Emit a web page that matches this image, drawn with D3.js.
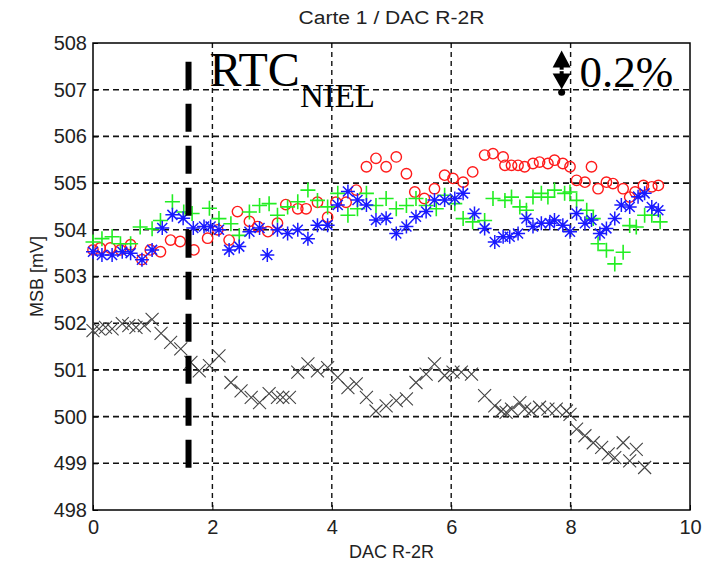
<!DOCTYPE html>
<html>
<head>
<meta charset="utf-8">
<script src="https://cdn.jsdelivr.net/npm/d3@7"></script>
<style>
  body { margin: 0; background: #fff; }
  text { font-family: "Liberation Sans", Arial, sans-serif; }
  .big { font-family: "Liberation Serif", "Times New Roman", serif; }
</style>
</head>
<body>
<div id="chart"></div>
<script>
// DAC index (x) vs MSB voltage in mV (y)
const redX = [0.0,0.12,0.29,0.46,0.63,0.82,0.96,1.13,1.30,1.46,1.69,1.92,2.09,2.28,2.42,2.62,2.76,2.93,3.09,3.23,3.43,3.57,3.76,3.93,4.07,4.24,4.41,4.58,4.74,4.91,5.08,5.25,5.39,5.55,5.72,5.89,6.03,6.20,6.36,6.56,6.70,6.87,6.90,7.01,7.12,7.23,7.37,7.48,7.62,7.73,7.87,7.99,8.10,8.24,8.35,8.46,8.60,8.71,8.88,8.99,9.08,9.22,9.36,9.47];
const redY = [503.57,503.61,503.61,503.57,503.68,503.36,503.57,503.53,503.78,503.75,503.57,503.82,504.0,503.78,504.39,504.18,504.07,503.96,504.14,504.54,504.45,504.45,504.59,504.27,504.59,504.59,504.85,505.35,505.53,505.35,505.56,505.20,504.81,504.67,504.88,505.17,505.10,505.02,505.24,505.60,505.63,505.56,505.38,505.38,505.38,505.35,505.42,505.45,505.42,505.49,505.42,505.35,505.06,505.02,505.35,504.88,505.02,504.99,504.88,504.70,504.81,504.95,504.92,504.95];

const greenX = [0.0,0.15,0.32,0.46,0.63,0.79,0.99,1.13,1.33,1.52,1.66,1.95,2.11,2.31,2.45,2.62,2.79,2.95,3.09,3.26,3.43,3.60,3.76,3.93,4.10,4.27,4.43,4.58,4.74,4.91,5.08,5.25,5.41,5.58,5.75,5.89,6.06,6.20,6.36,6.56,6.70,6.90,7.01,7.15,7.26,7.37,7.51,7.62,7.73,7.90,7.99,8.10,8.27,8.38,8.46,8.60,8.74,8.88,8.99,9.10,9.24,9.36,9.50];
const greenY = [503.74,503.81,503.85,503.70,503.70,504.06,504.02,504.20,504.60,504.38,504.35,504.46,504.24,504.13,503.88,504.38,504.52,504.56,504.31,504.49,504.60,504.85,504.63,504.49,504.78,504.31,504.45,504.78,504.52,504.67,504.45,504.52,504.67,504.52,504.45,504.74,504.56,504.24,504.17,504.20,504.67,504.63,504.70,504.49,504.42,504.70,504.78,504.70,504.85,504.78,504.81,504.63,504.42,504.24,503.70,503.56,503.27,503.52,504.09,504.06,504.31,504.31,504.17];

const blueX = [0.0,0.15,0.32,0.49,0.63,0.82,0.99,1.16,1.33,1.51,1.68,1.86,1.97,2.11,2.28,2.45,2.62,2.79,2.92,3.09,3.26,3.43,3.60,3.76,3.93,4.10,4.27,4.43,4.58,4.74,4.91,5.08,5.25,5.41,5.58,5.72,5.89,6.06,6.20,6.39,6.56,6.73,6.87,6.98,7.12,7.26,7.37,7.51,7.65,7.73,7.87,7.99,8.10,8.24,8.35,8.49,8.60,8.74,8.85,8.99,9.13,9.24,9.36,9.47];
const blueY = [503.53,503.46,503.46,503.53,503.50,503.36,503.57,504.04,504.32,504.25,504.04,504.07,504.07,504.0,503.57,503.64,503.96,504.04,503.46,504.0,503.92,504.0,503.81,504.10,504.10,504.53,504.82,504.64,504.53,504.21,504.25,503.92,504.07,504.28,504.39,504.64,504.64,504.67,504.78,504.35,504.03,503.74,503.85,503.85,503.92,504.24,504.07,504.14,504.14,504.21,504.10,503.96,504.35,504.14,504.21,503.92,504.03,504.24,504.53,504.49,504.71,504.78,504.49,504.42];

const blackX = [0.0,0.10,0.21,0.32,0.49,0.60,0.72,0.86,0.99,1.14,1.30,1.47,1.64,1.78,1.95,2.11,2.31,2.48,2.65,2.79,2.95,3.09,3.18,3.29,3.43,3.60,3.76,3.93,4.10,4.27,4.41,4.58,4.74,4.91,5.08,5.25,5.41,5.58,5.72,5.89,6.03,6.17,6.34,6.56,6.73,6.84,6.92,7.01,7.15,7.23,7.34,7.48,7.62,7.76,7.93,7.99,8.10,8.24,8.38,8.52,8.63,8.74,8.88,8.99,9.10,9.24];
const blackY = [501.84,501.88,501.91,501.88,501.99,501.95,501.91,501.95,502.08,501.78,501.59,501.45,501.16,500.98,501.09,501.30,500.73,500.55,500.41,500.30,500.49,500.41,500.41,500.41,500.95,501.13,500.98,501.05,500.84,500.62,500.70,500.41,500.12,500.23,500.34,500.38,500.73,500.91,501.13,500.88,500.95,500.95,500.91,500.45,500.23,500.12,500.09,500.16,500.30,500.16,500.12,500.20,500.16,500.16,500.12,500.05,499.73,499.59,499.44,499.34,499.20,499.12,499.44,499.05,499.30,498.91];

const xTicks = [0, 2, 4, 6, 8, 10];
const yTicks = [498, 499, 500, 501, 502, 503, 504, 505, 506, 507, 508];

// annotations (data units)
const rtcLineX = 1.6, rtcLineY = [498.9, 507.6];
const arrowX = 7.85, arrowY = [506.9, 507.84];

const W = 702, H = 569;
const margin = { top: 43, right: 12, bottom: 59, left: 93 };
const width = W - margin.left - margin.right;
const height = H - margin.top - margin.bottom;

const svg = d3.select("#chart").append("svg")
  .attr("width", W).attr("height", H)
  .style("background", "#fff");

const g = svg.append("g")
  .attr("transform", `translate(${margin.left},${margin.top})`);

const x = d3.scaleLinear().domain([0, 10]).range([0, width]);
const y = d3.scaleLinear().domain([498, 508]).range([height, 0]);

// grid
g.append("g").selectAll("line").data(xTicks.slice(1, -1)).join("line")
  .attr("x1", d => x(d)).attr("x2", d => x(d))
  .attr("y1", 0).attr("y2", height)
  .attr("stroke", "#111").attr("stroke-width", 1.4).attr("stroke-dasharray", "5,4");
g.append("g").selectAll("line").data(yTicks.slice(1, -1)).join("line")
  .attr("x1", 0).attr("x2", width)
  .attr("y1", d => y(d)).attr("y2", d => y(d))
  .attr("stroke", "#111").attr("stroke-width", 1.6).attr("stroke-dasharray", "6,4");

// axes, ticks inside like matlab
const xAxis = g.append("g").attr("transform", `translate(0,${height})`)
  .call(d3.axisBottom(x).tickValues(xTicks).tickSize(-5).tickPadding(16));
const yAxis = g.append("g")
  .call(d3.axisLeft(y).tickValues(yTicks).tickSize(-5).tickPadding(6));
[xAxis, yAxis].forEach(a => {
  a.select(".domain").remove();
  a.selectAll("line").attr("stroke", "#000");
  a.selectAll("text").attr("font-size", 20).attr("fill", "#222")
    .attr("font-family", "Liberation Sans, Arial, sans-serif");
});
xAxis.selectAll("text").attr("dy", "0.42em");

g.append("rect").attr("width", width).attr("height", height)
  .attr("fill", "none").attr("stroke", "#000").attr("stroke-width", 1.5);

// markers
const pts = (xs, ys) => xs.map((d, i) => [d, ys[i]]);

g.append("g").selectAll("circle").data(pts(redX, redY)).join("circle")
  .attr("cx", d => x(d[0])).attr("cy", d => y(d[1])).attr("r", 5.2)
  .attr("fill", "none").attr("stroke", "#ff1a1a").attr("stroke-width", 1.4);

g.append("g").selectAll("path").data(pts(greenX, greenY)).join("path")
  .attr("transform", d => `translate(${x(d[0])},${y(d[1])})`)
  .attr("d", "M-7.5,0H7.5M0,-7.5V7.5")
  .attr("fill", "none").attr("stroke", "#22ee22").attr("stroke-width", 1.6);

g.append("g").selectAll("path").data(pts(blueX, blueY)).join("path")
  .attr("transform", d => `translate(${x(d[0])},${y(d[1])})`)
  .attr("d", "M-7,0H7M0,-7V7M-5,-5L5,5M-5,5L5,-5")
  .attr("fill", "none").attr("stroke", "#1a1aff").attr("stroke-width", 1.5);

g.append("g").selectAll("path").data(pts(blackX, blackY)).join("path")
  .attr("transform", d => `translate(${x(d[0])},${y(d[1])})`)
  .attr("d", "M-6.5,-6.5L6.5,6.5M-6.5,6.5L6.5,-6.5")
  .attr("fill", "none").attr("stroke", "#444").attr("stroke-width", 1.1);

// RTC NIEL thick dashed line
g.append("line")
  .attr("x1", x(rtcLineX)).attr("x2", x(rtcLineX))
  .attr("y1", y(rtcLineY[1])).attr("y2", y(rtcLineY[0]))
  .attr("stroke", "#000").attr("stroke-width", 6)
  .attr("stroke-dasharray", "28,14");

const rtc = g.append("text").attr("class", "big")
  .attr("x", x(1.95)).attr("y", y(507.07))
  .attr("font-size", 48).attr("fill", "#000");
rtc.append("tspan").text("RTC");
rtc.append("tspan").attr("font-size", 33).attr("dy", 21).text("NIEL");

// 0.2% double arrow
const ax = x(arrowX), aTop = y(arrowY[1]), aBot = y(arrowY[0]);
const mid = (aTop + aBot) / 2 - 2;
const arrow = g.append("g").attr("fill", "#000");
arrow.append("path").attr("d", `M${ax},${aTop}L${ax - 9},${mid - 3}H${ax + 9}Z`);
arrow.append("path").attr("d", `M${ax - 9},${mid + 3}H${ax + 9}L${ax},${aBot - 5}Z`);
arrow.append("rect").attr("x", ax - 2).attr("y", mid - 5).attr("width", 4).attr("height", 10);
arrow.append("line").attr("x1", ax - 10).attr("x2", ax + 10)
  .attr("y1", mid).attr("y2", mid).attr("stroke", "#fff").attr("stroke-width", 1.5);
arrow.append("circle").attr("cx", ax).attr("cy", aBot - 2).attr("r", 3.5);

g.append("text").attr("class", "big")
  .attr("x", x(8.15)).attr("y", y(507.05))
  .attr("font-size", 45).attr("fill", "#000").text("0.2%");

// titles
svg.append("text").attr("x", margin.left + width / 2).attr("y", 24)
  .attr("text-anchor", "middle").attr("font-size", 18).attr("fill", "#222")
  .attr("textLength", 186).attr("lengthAdjust", "spacingAndGlyphs")
  .text("Carte 1 / DAC R-2R");
svg.append("text").attr("x", margin.left + width / 2).attr("y", 558)
  .attr("text-anchor", "middle").attr("font-size", 18).attr("fill", "#222")
  .text("DAC R-2R");
svg.append("text").attr("transform", `translate(43,${margin.top + height / 2}) rotate(-90)`)
  .attr("text-anchor", "middle").attr("font-size", 18).attr("fill", "#222")
  .text("MSB [mV]");
</script>
</body>
</html>
